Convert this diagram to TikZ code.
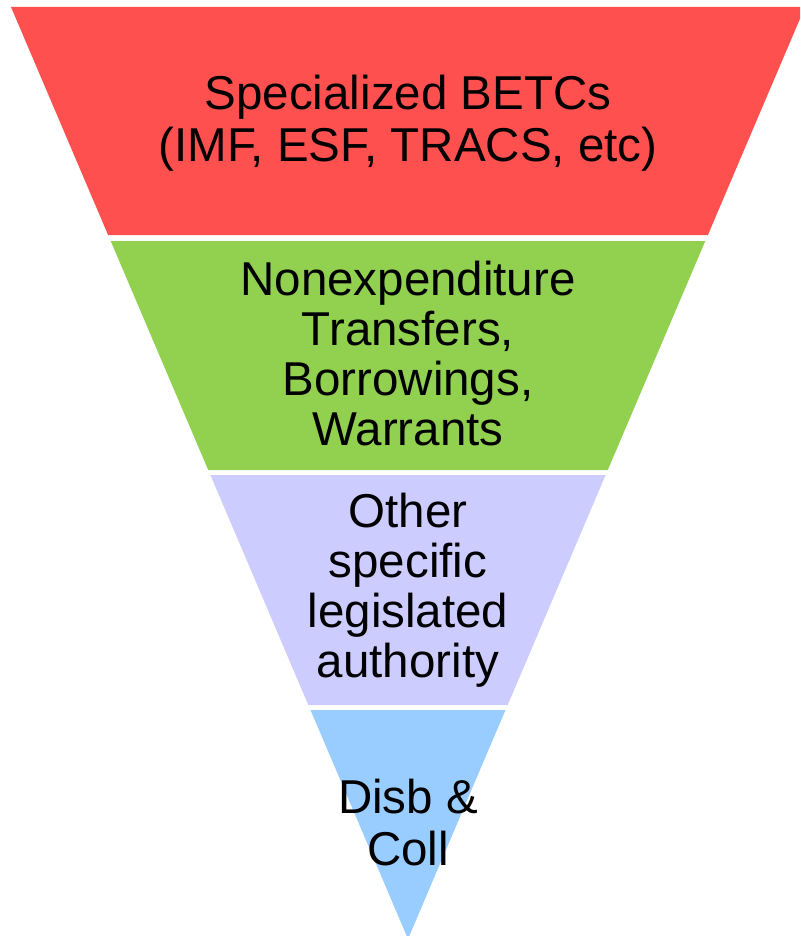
\documentclass[tikz,border=0pt]{standalone}
\usepackage{fontspec}
\setmainfont{Liberation Sans}
\definecolor{bandred}{HTML}{FF5050}
\definecolor{bandgreen}{HTML}{92D050}
\definecolor{bandlav}{HTML}{CCCCFF}
\definecolor{bandblue}{HTML}{99CCFF}
\tikzset{
  band/.style={draw=none},
  bandtext/.style={align=center, anchor=base, inner sep=0pt, text=black,
    font=\fontsize{47.5}{50}\selectfont},
}
\begin{document}
\begin{tikzpicture}[x=1pt, y=-1pt]
\useasboundingbox (0,0) rectangle (800,936);
\begin{scope}
\clip (0,0) rectangle (800,936);
\fill[band, bandred]   (11,7) -- (805,7) -- (707.9,235) -- (108.1,235) -- cycle;
\fill[band, bandgreen] (110.7,241) -- (705.3,241) -- (607.8,470) -- (208.2,470) -- cycle;
\fill[band, bandlav]   (210.4,475) -- (605.6,475) -- (507.7,705) -- (308.3,705) -- cycle;
\fill[band, bandblue]  (310.5,710) -- (505.5,710) -- (408,939) -- cycle;
\end{scope}
% anchor=base lies on the last line's baseline
\node[bandtext, font=\fontsize{47.5}{52}\selectfont] (t1) at (408,162) {Specialized BETCs\\(IMF, ESF, TRACS, etc)};
\node[bandtext] (t2) at (408,445) {Nonexpenditure\\Transfers,\\Borrowings,\\Warrants};
\node[bandtext] (t3) at (408,677) {Other\\specific\\legislated\\authority};
\node[bandtext, font=\fontsize{47.5}{52}\selectfont] (t4) at (408,865) {Disb \&\\Coll};
\end{tikzpicture}
\end{document}
